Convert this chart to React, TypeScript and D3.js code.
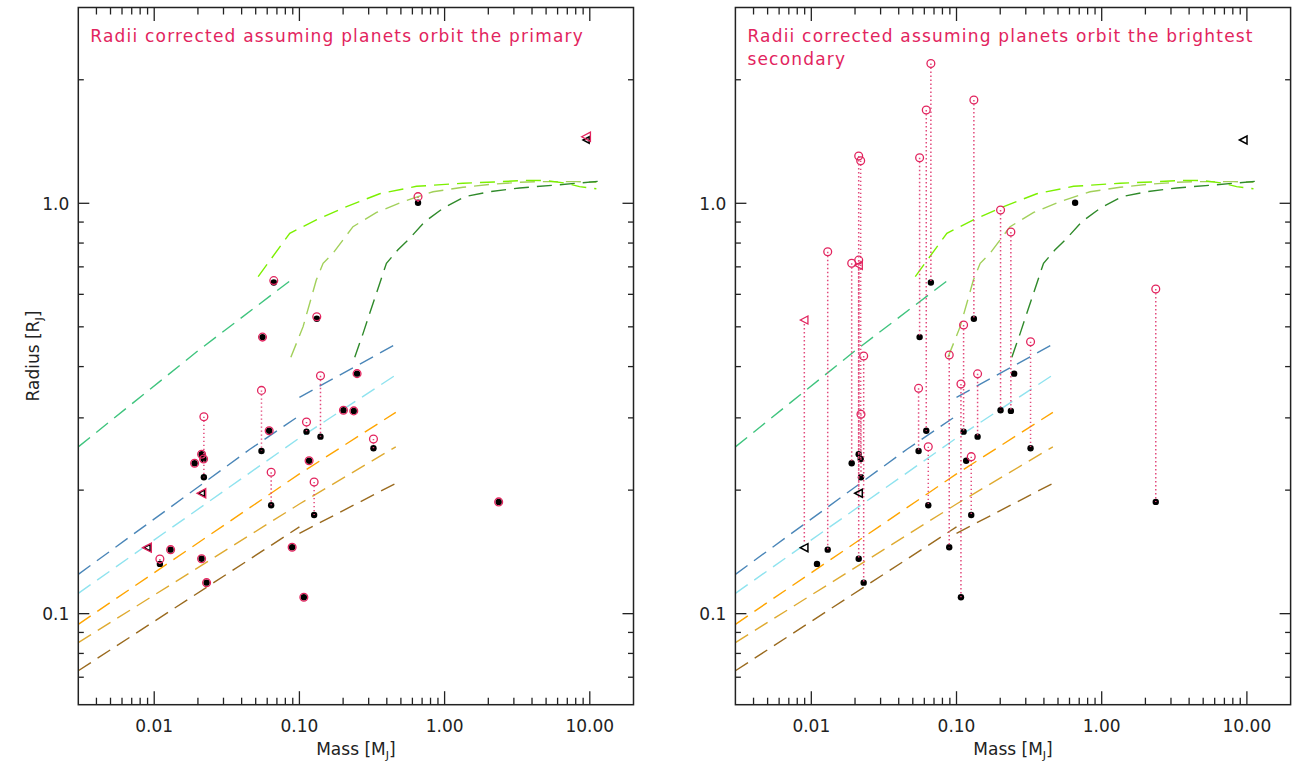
import React from 'react';
import * as d3 from 'd3';

const W = 1294;
const H = 764;
const TOP = 7.5;
const BOTTOM = 704.7;
const RED = '#e2245e';
const DOT_RED = '#e24a7c';
const FONT = '"DejaVu Sans", sans-serif';

const massDomain: [number, number] = [0.003, 20];
const radiusDomain: [number, number] = [0.06, 3];
const xMajorTicks = [0.01, 0.1, 1, 10];
const xMajorLabels = ['0.01', '0.10', '1.00', '10.00'];
const yMajorTicks = [0.1, 1];
const yMajorLabels = ['0.1', '1.0'];

// planets: mass [MJ], observed radius, radius corrected (primary), radius corrected (brightest secondary)
const planetMass = [0.0666, 0.1317, 0.0557, 0.2495, 0.0548, 0.1397, 0.0619, 0.2011, 0.2368, 0.1119, 0.3236, 0.01897, 0.0212, 0.02188, 0.02198, 0.1166, 0.0639, 0.1263, 0.0891, 0.01297, 0.01094, 0.0212, 0.02294, 0.1073, 0.656, 2.357];
const radiusObserved = [0.641, 0.523, 0.472, 0.3845, 0.249, 0.27, 0.279, 0.313, 0.312, 0.2777, 0.2529, 0.2325, 0.2445, 0.2382, 0.215, 0.2359, 0.1837, 0.174, 0.1451, 0.1432, 0.1322, 0.1361, 0.119, 0.1096, 1.003, 0.1872];
const radiusPrimary = [0.648, 0.529, 0.472, 0.3845, 0.35, 0.38, 0.279, 0.313, 0.312, 0.2932, 0.2665, 0.2325, 0.2445, 0.2382, 0.302, 0.2359, 0.2211, 0.2094, 0.1451, 0.1432, 0.1359, 0.1361, 0.119, 0.1096, 1.038, 0.1872];
const radiusSecondary: (number | null)[] = [2.19, 1.785, 1.291, null, 0.354, 0.384, 1.688, 0.963, 0.851, 0.505, 0.46, 0.714, 1.304, 1.27, 0.306, null, 0.2552, 0.2413, 0.4269, 0.762, null, 0.727, 0.4245, 0.3628, null, 0.618];

// limits (triangles)
const limitMass = [0.0212, 0.00895, 9.46];
const limitObserved = [0.1965, 0.1448, 1.4265];
const limitPrimary = [0.1965, 0.1448, 1.453];
const limitSecondary: (number | null)[] = [0.706, 0.5195, null];

// model curves [mass MJ, radius RJ]
const curveTeal: [number, number][] = [[0.003, 0.255], [0.02, 0.437], [0.09, 0.655]];
const curveBlueLow: [number, number][] = [[0.003, 0.1247], [0.0456, 0.2515], [0.1, 0.3038]];
const curveBlueHigh: [number, number][] = [[0.1, 0.3367], [0.461, 0.4533]];
const curveCyan: [number, number][] = [[0.003, 0.1121], [0.1, 0.268], [0.461, 0.3816]];
const curveOrange: [number, number][] = [[0.003, 0.0942], [0.1, 0.219], [0.461, 0.3095]];
const curveGold: [number, number][] = [[0.003, 0.085], [0.1, 0.185], [0.461, 0.255]];
const curveBrownLow: [number, number][] = [[0.003, 0.0726], [0.1, 0.1627]];
const curveBrownHigh: [number, number][] = [[0.1, 0.157], [0.461, 0.2078]];
const curveLawn: [number, number][] = [[0.052, 0.663], [0.0858, 0.845], [0.1307, 0.911], [0.2, 0.974], [0.357, 1.055], [0.64, 1.1], [1.34, 1.119], [2.2, 1.127], [3.6, 1.137], [5.0, 1.136], [6.9, 1.119], [8.5, 1.098], [11.1, 1.085]];
const curveYellowGreen: [number, number][] = [[0.0873, 0.4214], [0.106, 0.5005], [0.1307, 0.65], [0.1456, 0.714], [0.1704, 0.7555], [0.2339, 0.877], [0.34, 0.95], [0.5166, 1.009], [0.832, 1.067], [1.338, 1.094], [2.04, 1.112], [3.29, 1.125], [4.28, 1.129], [8.07, 1.129], [11.1, 1.125]];
const curveDarkGreen: [number, number][] = [[0.2405, 0.4215], [0.2745, 0.482], [0.305, 0.5395], [0.3975, 0.7143], [0.4756, 0.7694], [0.5752, 0.8219], [0.7296, 0.9019], [0.975, 0.9723], [1.375, 1.0378], [2.043, 1.067], [3.288, 1.09], [5.88, 1.108], [11.37, 1.131]];

const curves = [
  { pts: curveTeal, color: '#3fc47e' },
  { pts: curveBlueLow, color: '#4a86b8' },
  { pts: curveBlueHigh, color: '#4a86b8' },
  { pts: curveCyan, color: '#8fe3ef' },
  { pts: curveOrange, color: '#ffa500' },
  { pts: curveGold, color: '#dfaa30' },
  { pts: curveBrownLow, color: '#9a6a1e' },
  { pts: curveBrownHigh, color: '#9a6a1e' },
  { pts: curveYellowGreen, color: '#a2d05a' },
  { pts: curveDarkGreen, color: '#2f8a2a' },
  { pts: curveLawn, color: '#7cf000' },
];

function tri(cx: number, cy: number, s: number) {
  return `M${cx - 4 * s},${cy}L${cx + 3.6 * s},${cy - 4 * s}L${cx + 3.6 * s},${cy + 4 * s}Z`;
}

function Panel({ left, right, title, corr, limCorr, showYTitle, coincidentLimits }: {
  left: number; right: number; title: string[]; corr: (number | null)[]; limCorr: (number | null)[]; showYTitle: boolean; coincidentLimits: boolean;
}) {
  const x = d3.scaleLog().domain(massDomain).range([left, right]);
  const y = d3.scaleLog().domain(radiusDomain).range([BOTTOM, TOP]);
  const line = d3.line<[number, number]>().x((d) => x(d[0])).y((d) => y(d[1]));
  const xMinor = x.ticks().filter((t) => !xMajorTicks.some((m) => Math.abs(m - t) / m < 1e-6) && t > massDomain[0] * 1.0001 && t < massDomain[1] * 0.9999);
  const yMinor = y.ticks().filter((t) => !yMajorTicks.some((m) => Math.abs(m - t) / m < 1e-6) && t > radiusDomain[0] * 1.0001 && t < radiusDomain[1] * 0.9999);
  const cx = (left + right) / 2;
  const axis = '#222';
  return (
    <g>
      {curves.map((c, i) => (
        <path key={'c' + i} d={line(c.pts) || ''} fill="none" stroke={c.color} strokeWidth={1.4} strokeDasharray="15 8" />
      ))}
      {/* black observed points */}
      {planetMass.map((m, i) => (
        <circle key={'b' + i} cx={x(m)} cy={y(radiusObserved[i])} r={3.2} fill="#000" />
      ))}
      {limitMass.map((m, i) => (
        <path key={'bt' + i} d={tri(x(m), y(limitObserved[i]), coincidentLimits ? 0.8 : 1)} fill="none" stroke="#000" strokeWidth={1.5} />
      ))}
      {/* red corrected points */}
      {planetMass.map((m, i) => corr[i] == null ? null : (
        <circle key={'r' + i} cx={x(m)} cy={y(corr[i] as number)} r={3.9} fill="none" stroke={RED} strokeWidth={1.3} />
      ))}
      {limitMass.map((m, i) => limCorr[i] == null ? null : (
        <path key={'rt' + i} d={tri(x(m), y(limCorr[i] as number), coincidentLimits ? 1.15 : 1)} fill="none" stroke={RED} strokeWidth={1.3} />
      ))}
      {/* dotted connectors */}
      {planetMass.map((m, i) => corr[i] == null || Math.abs(y(corr[i] as number) - y(radiusObserved[i])) < 4 ? null : (
        <line key={'l' + i} x1={x(m)} x2={x(m)} y1={y(corr[i] as number)} y2={y(radiusObserved[i])} stroke={DOT_RED} strokeWidth={1.5} strokeDasharray="1.4 2.6" />
      ))}
      {limitMass.map((m, i) => limCorr[i] == null || Math.abs(y(limCorr[i] as number) - y(limitObserved[i])) < 4 ? null : (
        <line key={'lt' + i} x1={x(m)} x2={x(m)} y1={y(limCorr[i] as number) + 4} y2={y(limitObserved[i]) - 4} stroke={DOT_RED} strokeWidth={1.5} strokeDasharray="1.4 2.6" />
      ))}
      {/* frame */}
      <rect x={left} y={TOP} width={right - left} height={BOTTOM - TOP} fill="none" stroke={axis} strokeWidth={1.5} />
      {xMajorTicks.map((t, i) => (
        <g key={'xm' + i}>
          <line x1={x(t)} x2={x(t)} y1={BOTTOM} y2={BOTTOM - 13.5} stroke={axis} strokeWidth={1.3} />
          <line x1={x(t)} x2={x(t)} y1={TOP} y2={TOP + 13.5} stroke={axis} strokeWidth={1.3} />
          <text x={x(t)} y={731.7} textAnchor="middle" fontFamily={FONT} fontSize={17} fill="#222">{xMajorLabels[i]}</text>
        </g>
      ))}
      {xMinor.map((t, i) => (
        <g key={'xn' + i}>
          <line x1={x(t)} x2={x(t)} y1={BOTTOM} y2={BOTTOM - 7} stroke={axis} strokeWidth={1.3} />
          <line x1={x(t)} x2={x(t)} y1={TOP} y2={TOP + 7} stroke={axis} strokeWidth={1.3} />
        </g>
      ))}
      {yMajorTicks.map((t, i) => (
        <g key={'ym' + i}>
          <line x1={left} x2={left + 11} y1={y(t)} y2={y(t)} stroke={axis} strokeWidth={1.3} />
          <line x1={right} x2={right - 11} y1={y(t)} y2={y(t)} stroke={axis} strokeWidth={1.3} />
          <text x={left - 9} y={y(t) + 6.5} textAnchor="end" fontFamily={FONT} fontSize={17} fill="#222">{yMajorLabels[i]}</text>
        </g>
      ))}
      {yMinor.map((t, i) => (
        <g key={'yn' + i}>
          <line x1={left} x2={left + 5.5} y1={y(t)} y2={y(t)} stroke={axis} strokeWidth={1.3} />
          <line x1={right} x2={right - 5.5} y1={y(t)} y2={y(t)} stroke={axis} strokeWidth={1.3} />
        </g>
      ))}
      <text x={cx} y={755} textAnchor="middle" fontFamily={FONT} fontSize={17} fill="#222">
        Mass [M<tspan fontSize={11} dy={4}>J</tspan><tspan dy={-4}>]</tspan>
      </text>
      {showYTitle && (
        <text transform={`translate(39,${(TOP + BOTTOM) / 2}) rotate(-90)`} textAnchor="middle" fontFamily={FONT} fontSize={17} fill="#222">
          Radius [R<tspan fontSize={11} dy={4}>J</tspan><tspan dy={-4}>]</tspan>
        </text>
      )}
      {title.map((t, i) => (
        <text key={'t' + i} x={left + 12} y={42 + i * 23} fontFamily={FONT} fontSize={17} letterSpacing={1.2} fill={RED}>{t}</text>
      ))}
    </g>
  );
}

export default function App() {
  return (
    <svg width={W} height={H} style={{ position: 'absolute', left: 0, top: 0, background: '#fff' }}>
      <rect x={0} y={0} width={W} height={H} fill="#fff" />
      <Panel left={78.3} right={633.5} title={['Radii corrected assuming planets orbit the primary']} corr={radiusPrimary} limCorr={limitPrimary} showYTitle={true} coincidentLimits={true} />
      <Panel left={735.4} right={1290.6} title={['Radii corrected assuming planets orbit the brightest', 'secondary']} corr={radiusSecondary} limCorr={limitSecondary} showYTitle={false} coincidentLimits={false} />
    </svg>
  );
}
